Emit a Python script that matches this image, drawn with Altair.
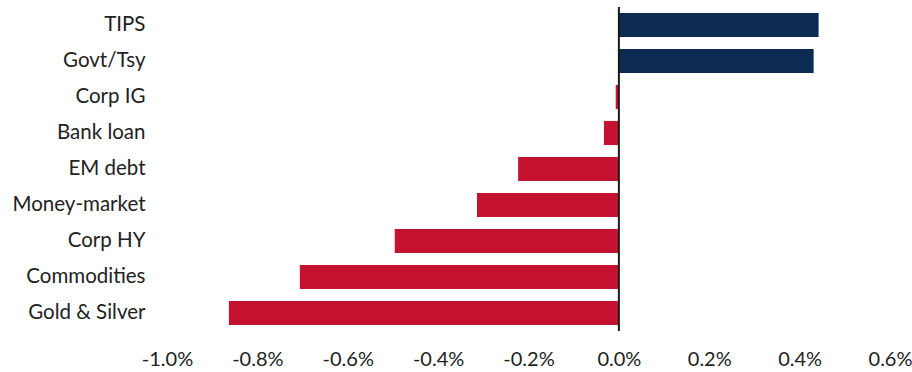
import altair as alt
import pandas as pd

categories = ["TIPS", "Govt/Tsy", "Corp IG", "Bank loan", "EM debt",
              "Money-market", "Corp HY", "Commodities", "Gold & Silver"]
values = [0.442, 0.431, -0.007, -0.033, -0.223, -0.314, -0.496, -0.706, -0.863]
x_ticks = [-1.0, -0.8, -0.6, -0.4, -0.2, 0.0, 0.2, 0.4, 0.6]

df = pd.DataFrame({"category": categories, "value": values})

FONT = "Lato"

bars = alt.Chart(df).mark_bar().encode(
    y=alt.Y("category:N", sort=categories,
            scale=alt.Scale(paddingInner=0.33, paddingOuter=0.165),
            axis=alt.Axis(title=None, domain=False, ticks=False, labelPadding=22,
                          labelFontSize=20.5, labelColor="#222222", labelFont=FONT,
                          labelFontWeight="normal")),
    x=alt.X("value:Q",
            scale=alt.Scale(domain=[-1.0, 0.6], nice=False),
            axis=alt.Axis(title=None, values=x_ticks, grid=False, domain=False, ticks=False,
                          labelExpr="replace(format(datum.value, '.1f'), '\u2212', '-') + '%'",
                          labelPadding=18, labelFontSize=20, labelColor="#222222",
                          labelFont=FONT, labelFontWeight="normal", labelFlush=False)),
    color=alt.condition(alt.datum.value > 0, alt.value("#0C2B52"), alt.value("#C41230")),
)

zero = alt.Chart(pd.DataFrame({"z": [0.0]})).mark_rule(color="#1a1a1a", strokeWidth=2).encode(
    x=alt.X("z:Q")
)

chart = alt.layer(bars, zero).properties(
    width=723, height=324,
    autosize=alt.AutoSizeParams(type="none"),
    padding={"left": 167, "top": 7, "right": 22, "bottom": 41},
).configure_view(stroke=None)

chart.save("out.html", embed_options={"renderer": "svg", "actions": False})
